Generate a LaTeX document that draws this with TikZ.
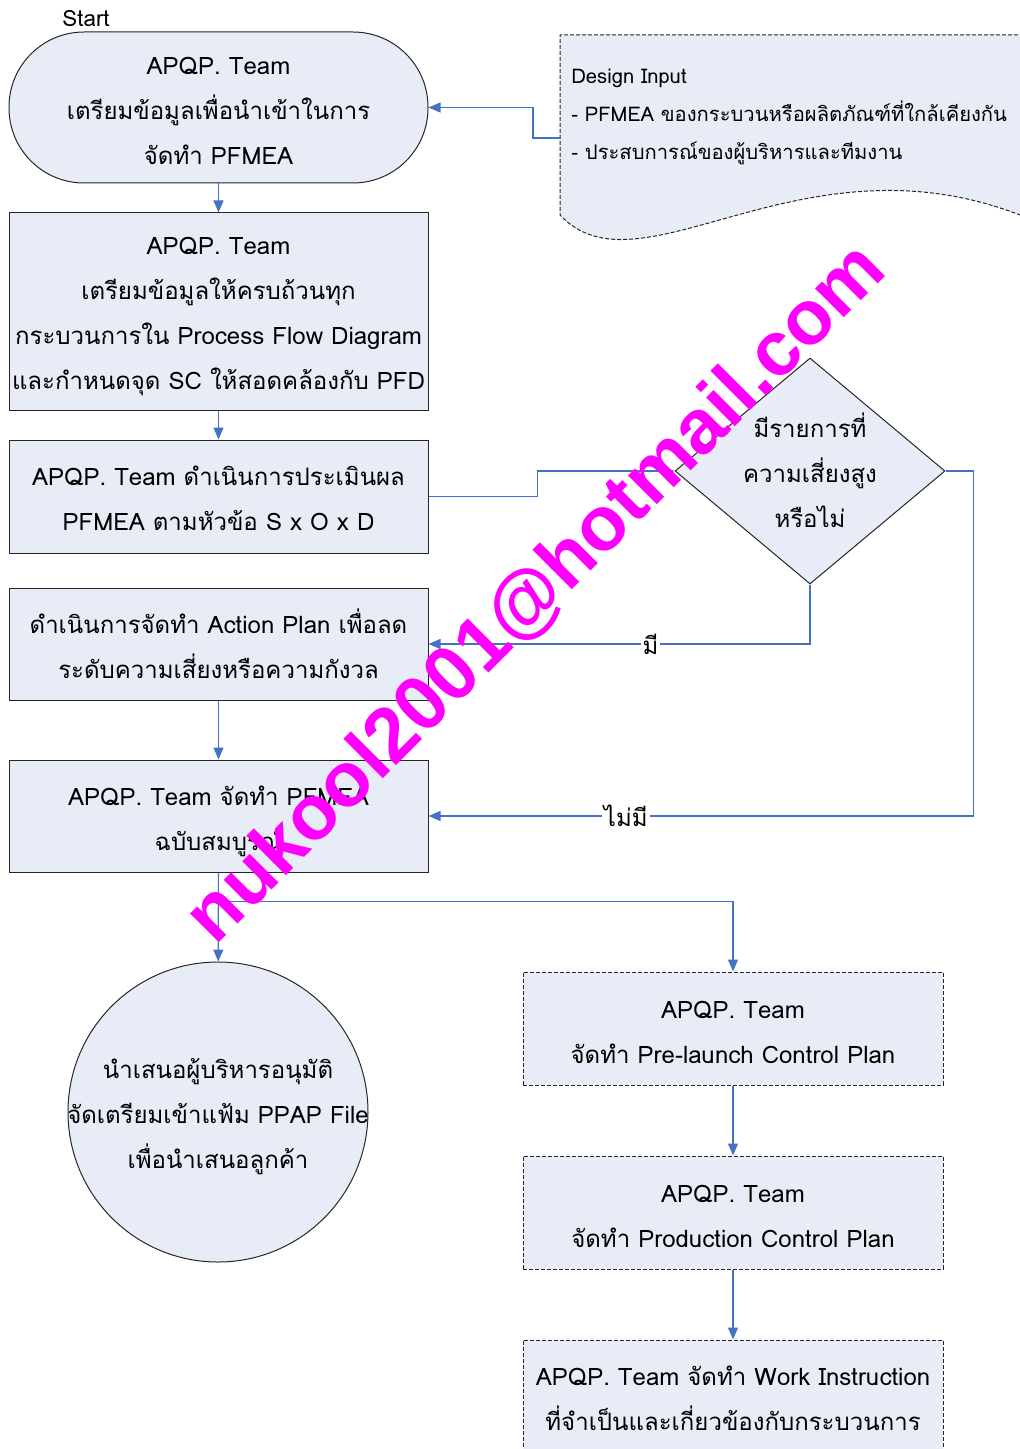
\documentclass[tikz,border=0pt]{standalone}
\usepackage{fontspec}
\setmainfont[Script=Thai]{Loma}
\newfontfamily\wmfont{Liberation Sans}
\usetikzlibrary{arrows.meta,shapes.geometric}
\definecolor{boxfill}{RGB}{231,236,246}
\definecolor{linec}{RGB}{68,114,196}
\definecolor{wm}{RGB}{255,0,255}
\newcommand{\mainsz}{\fontsize{12}{22.5}\selectfont}
\newcommand{\docsz}{\fontsize{10.1}{19}\selectfont}
\begin{document}
\begin{tikzpicture}[x=0.5pt,y=-0.5pt,
  box/.style={draw=black!85, fill=boxfill, line width=0.5pt, minimum width=209.5pt, inner sep=0pt},
  dbox/.style={box, minimum width=210pt, minimum height=56.5pt, dash pattern=on 2pt off 1pt},
  txt/.style={align=center, inner sep=0pt, font=\mainsz},
  conn/.style={draw=linec, line width=0.6pt, -{Triangle[length=6pt,width=5pt]}},
  lbl/.style={fill=white, inner sep=1pt, font=\mainsz}]
\useasboundingbox (0,0) rectangle (1020,1449);
\clip (0,0) rectangle (1020,1449);
% Design input document
\fill[boxfill] (560,35) -- (1030,35) -- (1030,215) -- (1020,215) .. controls (800,130) and (640,300) .. (560,215) -- cycle;
\draw[black!85, line width=0.5pt, dash pattern=on 2pt off 1pt] (1030,35) -- (560,35) -- (560,215) .. controls (640,300) and (800,130) .. (1020,215);
\node[anchor=north west, align=left, inner sep=0pt, font=\docsz] (doc) at (571,69) {Design Input\\- PFMEA ของกระบวนหรือผลิตภัณฑ์ที่ใกล้เคียงกัน\\- ประสบการณ์ของผู้บริหารและทีมงาน};
\coordinate (docL) at (560,138);
% shapes
\node[anchor=south west, inner sep=0pt, font=\fontsize{11.2}{12}\selectfont] (startlbl) at (62,27) {Start};
\node[box, minimum height=75.5pt, rounded corners=37.5pt] (start) at (218.5,107.5) {};
\node[box, minimum height=98.5pt] (b2) at (218.5,311.5) {};
\node[box, minimum height=56.5pt] (b3) at (218.5,496.5) {};
\node[diamond, draw=black!85, fill=boxfill, line width=0.5pt, minimum width=135pt, minimum height=113pt, inner sep=0pt] (dec) at (810,471) {};
\node[box, minimum height=56pt] (b4) at (218.5,644) {};
\node[box, minimum height=56pt] (b5) at (218.5,816) {};
\node[circle, draw=black!85, fill=boxfill, line width=0.5pt, minimum size=150pt, inner sep=0pt] (circ) at (218,1112) {};
\node[dbox] (b6) at (733,1028.5) {};
\node[dbox] (b7) at (733,1212.5) {};
\node[dbox] (b8) at (733,1396.5) {};
% texts
\node[txt] (startt) at (218.5,111) {APQP. Team\\เตรียมข้อมูลเพื่อนำเข้าในการ\\จัดทำ PFMEA};
\node[txt] (b2t) at (218.5,316.5) {APQP. Team\\เตรียมข้อมูลให้ครบถ้วนทุก\\กระบวนการใน Process Flow Diagram\\และกำหนดจุด SC ให้สอดคล้องกับ PFD};
\node[txt] (b3t) at (218.5,498.5) {APQP. Team ดำเนินการประเมินผล\\PFMEA ตามหัวข้อ S x O x D};
\node[txt] (dect) at (810,470) {มีรายการที่\\ความเสี่ยงสูง\\หรือไม่};
\node[txt] (b4t) at (218.5,644) {ดำเนินการจัดทำ Action Plan เพื่อลด\\ระดับความเสี่ยงหรือความกังวล};
\node[txt] (b5t) at (218.5,821.5) {APQP. Team จัดทำ PFMEA\\ฉบับสมบูรณ์};
\node[txt] (circt) at (218,1116.5) {นำเสนอผู้บริหารอนุมัติ\\จัดเตรียมเข้าแฟ้ม PPAP File\\เพื่อนำเสนอลูกค้า};
\node[txt] (b6t) at (733,1032) {APQP. Team\\จัดทำ Pre-launch Control Plan};
\node[txt] (b7t) at (733,1216) {APQP. Team\\จัดทำ Production Control Plan};
\node[txt] (b8t) at (733,1398.5) {APQP. Team จัดทำ Work Instruction\\ที่จำเป็นและเกี่ยวข้องกับกระบวนการ};
% connectors
\draw[conn] (docL) -- ++(-27,0) |- (start.east);
\draw[conn] (start) -- (b2);
\draw[conn] (b2) -- (b3);
\draw[conn] (b3.east) -- ++(109,0) |- (dec.west);
\draw[conn] (dec.south) |- node[lbl, pos=0.709] (lyes) {มี} (b4.east);
\draw[conn] (b4) -- (b5);
\draw[conn] (dec.east) -- ++(28,0) |- node[lbl, pos=0.819] (lno) {ไม่มี} (b5.east);
\draw[conn] (b5) -- (circ);
\coordinate (branch) at ([yshift=-14.5pt]b5.south);
\draw[conn] (branch) -| (b6.north);
\draw[conn] (b6) -- (b7);
\draw[conn] (b7) -- (b8);
% watermark
\node[rotate=45, text=wm, inner sep=0pt, font=\wmfont\bfseries\fontsize{38.5}{40}\selectfont] (wmark) at (537,594) {nukool2001@hotmail.com};
\end{tikzpicture}
\end{document}
